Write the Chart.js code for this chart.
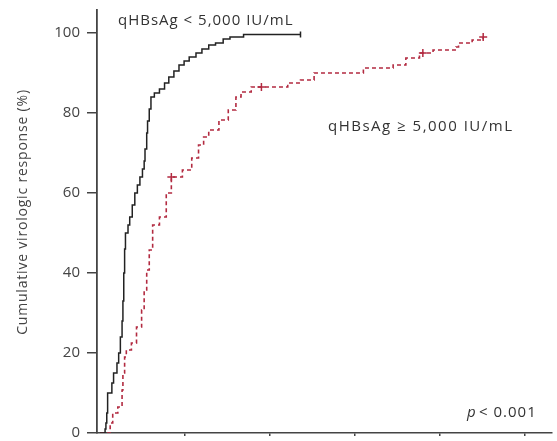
<!DOCTYPE html>
<html>
<head>
<meta charset="utf-8">
<script src="https://cdn.jsdelivr.net/npm/chart.js@4"></script>
<style>
  html, body { margin: 0; padding: 0; background: #fff; }
  #chart { display: block; }
</style>
</head>
<body>
<canvas id="chart" width="557" height="441"></canvas>
<script>
// time in tick units (one tick = one unit), response in %
const lowT = [0, 0.05, 0.06, 0.07, 0.08, 0.09, 0.14, 0.16, 0.2, 0.22, 0.24, 0.26, 0.27, 0.28, 0.29, 0.3, 0.33, 0.35, 0.38, 0.41, 0.44, 0.47, 0.5, 0.52, 0.53, 0.55, 0.56, 0.58, 0.6, 0.64, 0.7, 0.76, 0.81, 0.87, 0.93, 0.99, 1.05, 1.13, 1.2, 1.28, 1.36, 1.45, 1.53, 1.69, 2.36];
const lowY = [0, 0, 1, 2.5, 5, 10, 12.5, 15, 17.5, 20, 24, 28, 33, 40, 46, 50, 52, 54, 57, 60, 62, 64, 66, 68, 71, 75, 78, 81, 84, 85, 86, 87.5, 89, 90.5, 92, 93, 94, 95, 96, 97, 97.5, 98.5, 99, 99.6, 99.6];

const highT = [0, 0.06, 0.12, 0.15, 0.21, 0.26, 0.27, 0.29, 0.31, 0.37, 0.43, 0.49, 0.52, 0.55, 0.58, 0.62, 0.7, 0.78, 0.84, 0.97, 1.08, 1.16, 1.22, 1.28, 1.4, 1.51, 1.6, 1.66, 1.78, 2.06, 2.21, 2.36, 2.52, 3.02, 3.1, 3.45, 3.6, 3.76, 3.92, 4.19, 4.22, 4.38, 4.51];
const highY = [0, 0, 2.5, 5, 6.5, 10.75, 15, 19, 20.75, 22.5, 26.5, 30.75, 35.75, 40.75, 45.75, 52, 54, 60, 64, 65.75, 68.75, 72, 74, 75.75, 78.25, 80.75, 84, 85.25, 86.5, 86.5, 87.5, 88.25, 90, 90, 91.25, 92, 93.75, 95, 95.75, 96.5, 97.5, 98.25, 99];

const censorHighT = [0.84, 1.9, 3.8, 4.51];
const censorHighY = [64, 86.5, 95, 99];
const censorLowT = [2.36];
const censorLowY = [99.6];

const xTicks = [1, 2, 3, 4, 5];
const yTicks = [0, 20, 40, 60, 80, 100];

const RED = '#b22a40';
const INK = '#333';
const toPts = (t, y) => t.map((v, i) => ({ x: v, y: y[i] }));

const labels = {
  id: 'labels',
  afterDraw(chart) {
    const ctx = chart.ctx;
    ctx.save();
    ctx.fillStyle = INK;
    ctx.textBaseline = 'alphabetic';
    ctx.textAlign = 'left';
    ctx.font = '15px "Open Sans"';
    ctx.letterSpacing = '1px';
    ctx.fillText('qHBsAg < 5,000 IU/mL', 118, 25);
    ctx.letterSpacing = '1.5px';
    ctx.fillText('qHBsAg \u2265 5,000 IU/mL', 328, 131);
    ctx.letterSpacing = '1px';
    ctx.font = 'italic 15px "Open Sans"';
    ctx.fillText('p', 467, 417);
    ctx.font = '15px "Open Sans"';
    ctx.fillText('< 0.001', 479, 417);
    ctx.translate(23, 212);
    ctx.rotate(-Math.PI / 2);
    ctx.textAlign = 'center';
    ctx.textBaseline = 'middle';
    ctx.font = '14px "Open Sans"';
    ctx.letterSpacing = '0.8px';
    ctx.fillStyle = '#444';
    ctx.fillText('Cumulative virologic response (%)', 0, 0);
    ctx.restore();
  }
};

new Chart(document.getElementById('chart'), {
  type: 'line',
  data: {
    datasets: [
      { data: toPts(lowT, lowY), borderColor: '#222', borderWidth: 1.5, stepped: 'before', pointRadius: 0, fill: false },
      { data: toPts(highT, highY), borderColor: RED, borderWidth: 1.6, borderDash: [4, 3], stepped: 'before', pointRadius: 0, fill: false },
      { type: 'scatter', data: toPts(censorHighT, censorHighY), pointStyle: 'cross', pointRadius: 4, borderColor: RED, borderWidth: 1.5, showLine: false },
      { type: 'scatter', data: toPts(censorLowT, censorLowY), pointStyle: 'line', rotation: 90, pointRadius: 3, borderColor: '#222', borderWidth: 1.5, showLine: false }
    ]
  },
  options: {
    responsive: false,
    animation: false,
    devicePixelRatio: 1,
    layout: { padding: { top: 10, right: 0, left: 0, bottom: 0 } },
    plugins: { legend: { display: false }, tooltip: { enabled: false } },
    scales: {
      x: {
        type: 'linear',
        min: -0.035,
        max: 5.314,
        afterBuildTicks: s => { s.ticks = xTicks.map(v => ({ value: v })); },
        afterFit: s => { s.height = 8; s.paddingLeft = 0; s.paddingRight = 0; },
        ticks: { display: false },
        grid: { drawOnChartArea: false, tickLength: 3, color: '#444', lineWidth: 1.5 },
        border: { color: '#444', width: 1.5 }
      },
      y: {
        type: 'linear',
        min: 0,
        max: 105.75,
        afterBuildTicks: s => { s.ticks = yTicks.map(v => ({ value: v })); },
        afterFit: s => { s.width = 97; s.paddingTop = 0; s.paddingBottom = 0; },
        ticks: { color: '#444', font: { family: 'Open Sans', size: 15 }, padding: 7 },
        grid: { drawOnChartArea: false, tickLength: 10, color: '#444', lineWidth: 1.5 },
        border: { color: '#444', width: 1.8 }
      }
    }
  },
  plugins: [labels]
});
</script>
</body>
</html>
